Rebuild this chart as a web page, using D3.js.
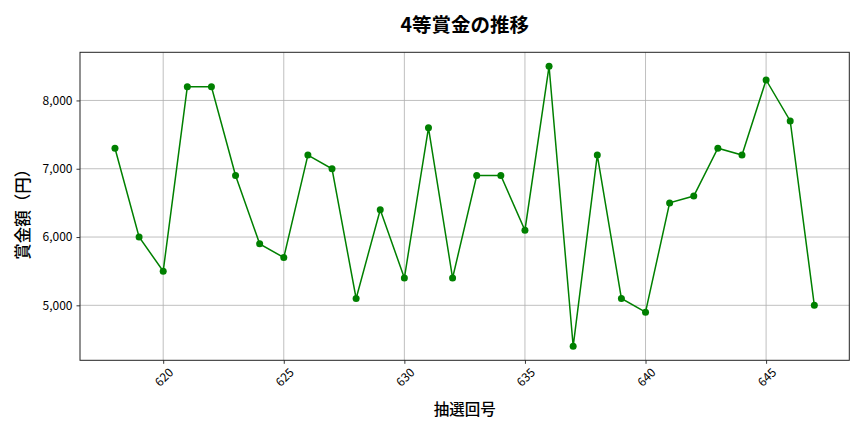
<!DOCTYPE html>
<html>
<head>
<meta charset="utf-8">
<script src="https://cdn.jsdelivr.net/npm/d3@7"></script>
<style>
  body { margin: 0; background: white; }
  text { font-family: "Noto Sans CJK JP", "Noto Sans", sans-serif; }
</style>
</head>
<body>
<svg id="display"></svg>
<script>
var width = 864,
    height = 432;

var rounds = [618, 619, 620, 621, 622, 623, 624, 625, 626, 627,
              628, 629, 630, 631, 632, 633, 634, 635, 636, 637,
              638, 639, 640, 641, 642, 643, 644, 645, 646, 647];
var prizes = [7300, 6000, 5500, 8200, 8200, 6900, 5900, 5700, 7200, 7000,
              5100, 6400, 5400, 7600, 5400, 6900, 6900, 6100, 8500, 4400,
              7200, 5100, 4900, 6500, 6600, 7300, 7200, 8300, 7700, 5000];
var xTicks = [620, 625, 630, 635, 640, 645];
var yTicks = [5000, 6000, 7000, 8000];

var margin = {left: 80, right: 14.7, top: 52.3, bottom: 71.7};

var svg = d3.select('#display').attr('width', width).attr('height', height);

var plotW = width - margin.left - margin.right,
    plotH = height - margin.top - margin.bottom;

// matplotlib style 5% padding
var xMin = d3.min(rounds), xMax = d3.max(rounds),
    yMin = d3.min(prizes), yMax = d3.max(prizes);
var xPad = (xMax - xMin) * 0.05, yPad = (yMax - yMin) * 0.05;

var x = d3.scaleLinear().domain([xMin - xPad, xMax + xPad]).range([0, plotW]);
var y = d3.scaleLinear().domain([yMin - yPad, yMax + yPad]).range([plotH, 0]);

var field = svg.append('g')
  .attr('transform', 'translate(' + margin.left + ',' + margin.top + ')');

// grid
field.append('g').selectAll('line').data(xTicks).enter().append('line')
  .attr('x1', function(d){ return x(d); })
  .attr('x2', function(d){ return x(d); })
  .attr('y1', 0).attr('y2', plotH)
  .attr('stroke', '#b0b0b0').attr('stroke-width', 0.8);
field.append('g').selectAll('line').data(yTicks).enter().append('line')
  .attr('y1', function(d){ return y(d); })
  .attr('y2', function(d){ return y(d); })
  .attr('x1', 0).attr('x2', plotW)
  .attr('stroke', '#b0b0b0').attr('stroke-width', 0.8);

// axes
var xAxis = field.append('g')
  .attr('transform', 'translate(0,' + plotH + ')')
  .call(d3.axisBottom(x).tickValues(xTicks).tickSize(3.5).tickPadding(3).tickFormat(d3.format('d')));
xAxis.selectAll('text')
  .style('font-size', '12px')
  .attr('fill', '#000')
  .attr('text-anchor', 'middle')
  .attr('dy', '0.35em')
  .attr('y', 0)
  .attr('transform', 'translate(0.5,17) rotate(-45)');

var yAxis = field.append('g')
  .call(d3.axisLeft(y).tickValues(yTicks).tickSize(3.5).tickPadding(4).tickFormat(d3.format(',')));
yAxis.selectAll('text').style('font-size', '12px').attr('fill', '#000');

field.selectAll('.domain').remove();
field.selectAll('.tick line').attr('stroke', '#000').attr('stroke-width', 0.8);

field.append('rect')
  .attr('width', plotW).attr('height', plotH)
  .attr('fill', 'none').attr('stroke', '#222').attr('stroke-width', 1);

// line + points
var line = d3.line()
  .x(function(d, i){ return x(rounds[i]); })
  .y(function(d){ return y(d); });

field.append('path')
  .datum(prizes)
  .attr('d', line)
  .attr('fill', 'none')
  .attr('stroke', 'green')
  .attr('stroke-width', 1.5);

field.append('g').selectAll('circle').data(prizes).enter().append('circle')
  .attr('cx', function(d, i){ return x(rounds[i]); })
  .attr('cy', function(d){ return y(d); })
  .attr('r', 3.5)
  .attr('fill', 'green');

// titles
svg.append('text')
  .text('4等賞金の推移')
  .attr('x', margin.left + plotW / 2)
  .attr('y', 32)
  .attr('text-anchor', 'middle')
  .style('font-size', '19.5px')
  .style('font-weight', 'bold');

svg.append('text')
  .text('抽選回号')
  .attr('x', margin.left + plotW / 2)
  .attr('y', 415)
  .attr('text-anchor', 'middle')
  .style('font-size', '15.5px')
  .style('font-weight', 500);

svg.append('text')
  .text('賞金額（円）')
  .attr('transform', 'translate(29,' + (margin.top + plotH / 2 + 4) + ') rotate(-90)')
  .attr('text-anchor', 'middle')
  .style('font-size', '16.5px')
  .style('font-weight', 500);
</script>
</body>
</html>
